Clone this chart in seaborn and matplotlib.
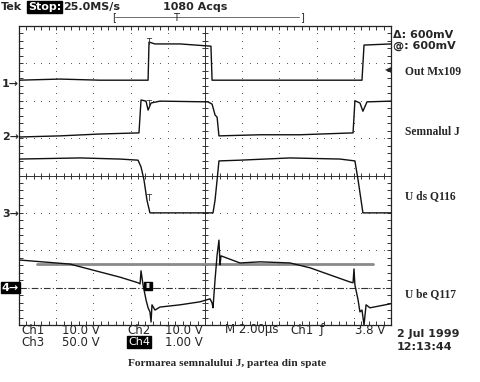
import numpy as np
import pandas as pd
import matplotlib
matplotlib.use("Agg")
import matplotlib.pyplot as plt
import seaborn as sns

# ---- data (time in microseconds, amplitude in screen divisions) ----
ch1_t = [0, 2.20, 4.35, 6.94, 6.99, 7.31, 8.66, 10.32, 10.38, 12.42, 15.11, 18.44, 18.55, 20]
ch1_v = [2.55, 2.58, 2.55, 2.55, 3.57, 3.52, 3.52, 3.46, 2.55, 2.55, 2.55, 2.55, 3.49, 3.52]

ch2_t = [0, 2.20, 4.35, 6.45, 6.56, 6.83, 6.94, 7.10, 7.58, 10.16, 10.38, 10.54, 10.65,
         10.75, 12.96, 15.11, 17.96, 18.06, 18.33, 18.49, 18.71, 20]
ch2_v = [1.03, 1.06, 1.11, 1.14, 2.02, 1.99, 1.75, 1.94, 1.99, 1.97, 1.91, 1.62, 1.56,
         1.06, 1.09, 1.09, 1.14, 2.00, 1.94, 1.72, 1.97, 1.99]

ch3_t = [0, 3.28, 5.43, 6.40, 6.56, 6.72, 6.88, 7.04, 8.66, 10.43, 10.54, 10.65, 10.75,
         11.88, 14.57, 17.26, 18.06, 18.23, 18.39, 18.49, 20]
ch3_v = [0.44, 0.47, 0.44, 0.41, 0.23, -0.12, -0.66, -1.00, -1.00, -1.00, -0.66, -0.12, 0.39,
         0.41, 0.47, 0.44, 0.39, -0.12, -0.66, -1.00, -1.00]

ch4_t = [0, 2.74, 4.35, 5.43, 6.40, 6.51, 6.56, 6.67, 6.83, 6.94, 7.04, 7.10, 7.15, 7.31,
         7.58, 8.66, 9.73, 10.27, 10.38, 10.43, 10.54, 10.65, 10.75, 10.81, 10.86, 11.88,
         12.96, 14.57, 15.65, 16.72, 17.80, 17.96, 18.01, 18.06, 18.23, 18.33, 18.44, 18.55,
         18.66, 18.87, 20]
ch4_v = [-2.26, -2.37, -2.58, -2.72, -2.87, -2.90, -2.55, -2.93, -3.33, -3.54, -3.65, -3.92,
         -3.46, -3.60, -3.52, -3.46, -3.38, -3.30, -3.41, -3.54, -2.79, -2.13, -1.73, -2.39,
         -2.15, -2.34, -2.31, -2.34, -2.47, -2.66, -2.85, -2.87, -2.50, -2.93, -3.33, -3.65,
         -3.60, -4.00, -3.46, -3.54, -3.43]

ref_level = -2.37          # grey horizontal cursor
ref_span = [0.97, 19.03]
ch4_ground = -3.01         # dash-dot line
ground_marks = {"1": 2.45, "2": 1.03, "3": -1.03, "4": -3.00}

labels_right = ["Out Mx109", "Semnalul J", "U ds Q116", "U be Q117"]
caption = "Formarea semnalului J, partea din spate"

# ---- figure ----
W, H = 481, 382
sns.set_style("white")
plt.rcParams['font.family'] = ['DejaVu Sans']

fig = plt.figure(figsize=(W / 100, H / 100), dpi=100)
L, R, T, B = 19, 391, 26, 325
ax = fig.add_axes([L / W, 1 - B / H, (R - L) / W, (B - T) / H])
ax.set_xlim(0, 20)
ax.set_ylim(-4, 4)

# graticule dots
grid_c = "#555555"
for xv in [2, 4, 6, 8, 12, 14, 16, 18]:
    ys = np.arange(-4, 4.001, 0.2)
    ax.scatter(np.full_like(ys, xv), ys, s=0.5, color=grid_c, linewidths=0, zorder=1)
for yv in [-3, -2, -1, 1, 2, 3]:
    xs = np.arange(0, 20.001, 0.4)
    ax.scatter(xs, np.full_like(xs, yv), s=0.5, color=grid_c, linewidths=0, zorder=1)

# centre crosshair with ticks
ax.axhline(0, color="#333333", lw=0.7, zorder=1)
ax.axvline(10, color="#333333", lw=0.7, zorder=1)
xs = np.arange(0, 20.001, 0.4)
ax.plot(xs, np.zeros_like(xs), ls="none", marker="|", ms=5, mew=0.7, color="#333333", zorder=1)
ys = np.arange(-4, 4.001, 0.2)
ax.plot(np.full_like(ys, 10), ys, ls="none", marker="_", ms=5, mew=0.7, color="#333333", zorder=1)

# border ticks
ax.set_xticks(np.arange(0, 20.001, 0.4))
ax.set_yticks(np.arange(-4, 4.001, 0.2))
ax.tick_params(direction="in", length=3, width=0.7, color="#333333",
               top=True, right=True, bottom=True, left=True,
               labelbottom=False, labelleft=False)
for s in ax.spines.values():
    s.set_color("#222222")
    s.set_linewidth(0.9)

# reference lines
ax.plot(ref_span, [ref_level, ref_level], color="#8a8a8a", lw=2, zorder=2)
ax.axhline(ch4_ground, color="#333333", lw=0.8, ls=(0, (6, 2, 1, 2)), zorder=2)

# traces
for t, v in [(ch1_t, ch1_v), (ch2_t, ch2_v), (ch3_t, ch3_v), (ch4_t, ch4_v)]:
    df = pd.DataFrame({"t": t, "v": v})
    sns.lineplot(data=df, x="t", y="v", ax=ax, color="#111111", lw=1.0,
                 estimator=None, sort=False, zorder=3)
ax.set_xlabel("")
ax.set_ylabel("")

# trigger marks on traces
ax.text(6.99, 3.57, "T", fontsize=6, ha="center", va="center", zorder=4)
ax.text(6.94, 1.90, "T", fontsize=6, ha="center", va="center", zorder=4)
ax.text(6.94, -0.62, "T", fontsize=6, ha="center", va="center", zorder=4)
ax.text(6.94, -2.95, "II", fontsize=5, color="white", ha="center", va="center", weight="bold",
        bbox=dict(facecolor="black", edgecolor="black", pad=0.8), zorder=5)


def ftext(x, y, s, **kw):
    kw.setdefault("va", "center")
    kw.setdefault("ha", "left")
    kw.setdefault("fontsize", 8)
    return fig.text(x / W, 1 - y / H, s, **kw)


# header
ftext(1, 7, "Tek", weight="bold")
ftext(28, 7, "Stop:", color="white", weight="bold",
      bbox=dict(facecolor="black", edgecolor="black", pad=0.6))
ftext(63, 7, "25.0MS/s", weight="bold")
ftext(163, 7, "1080 Acqs", weight="bold")
ftext(112, 17, "[", fontsize=7)
ftext(300, 17, "]", fontsize=7)
fig.add_artist(plt.Line2D([115 / W, 299 / W], [1 - 16.5 / H, 1 - 16.5 / H],
                          color="#555555", lw=0.6))
ftext(176, 18, "T", ha="center", fontsize=7)

ftext(393, 35, "Δ: 600mV", weight="bold")
ftext(393, 46, "@: 600mV", weight="bold")
ftext(388, 70, "◀", fontsize=6, ha="center")

# right labels
for lab, y in zip(labels_right, [72, 132, 196, 294]):
    ftext(405, y, lab, family="Liberation Serif", weight="bold", fontsize=8.3)

# channel ground markers
for key, gv in ground_marks.items():
    py = 175.5 - gv * 37.375
    if key == "4":
        ftext(2, py, "4→", color="white", weight="bold",
              bbox=dict(facecolor="black", edgecolor="black", pad=0.6))
    else:
        ftext(2, py, key + "→", weight="bold")

# bottom readouts
ftext(21, 330, "Ch1", fontsize=8.5)
ftext(62, 330, "10.0 V", fontsize=8.5)
ftext(127, 330, "Ch2", fontsize=8.5)
ftext(165, 330, "10.0 V", fontsize=8.5)
ftext(225, 330, "M 2.00µs", fontsize=8.5)
ftext(290, 330, "Ch1", fontsize=8.5)
ftext(320, 330, "ƒ", fontsize=8.5)
ftext(355, 330, "3.8 V", fontsize=8.5)
ftext(21, 342, "Ch3", fontsize=8.5)
ftext(62, 342, "50.0 V", fontsize=8.5)
ftext(128, 342, "Ch4", color="white", fontsize=8,
      bbox=dict(facecolor="black", edgecolor="black", pad=0.5))
ftext(165, 342, "1.00 V", fontsize=8.5)
ftext(397, 334, "2 Jul 1999", weight="bold")
ftext(397, 347, "12:13:44", weight="bold")

ftext(227, 364, caption, ha="center", family="Liberation Serif", weight="bold", fontsize=8.2)

fig.savefig("out.png", dpi=100)
